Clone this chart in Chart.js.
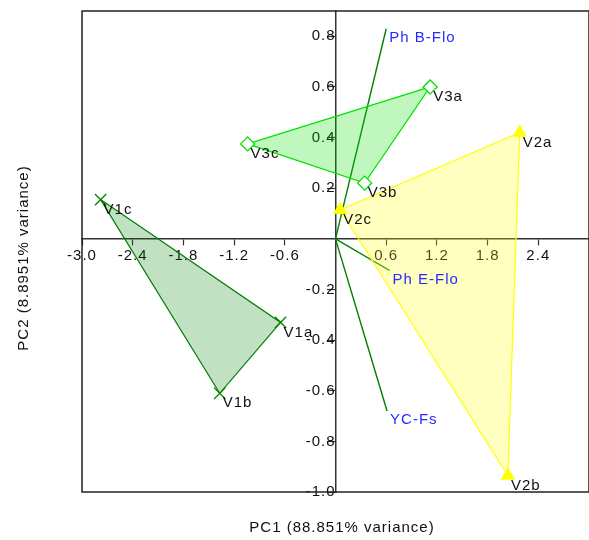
<!DOCTYPE html>
<html>
<head>
<meta charset="utf-8">
<script src="https://cdn.jsdelivr.net/npm/chart.js@4/dist/chart.umd.min.js"></script>
<style>
  html, body { margin: 0; padding: 0; background: #fff; }
  #wrap { width: 589px; height: 540px; }
</style>
</head>
<body>
<div id="wrap"><canvas id="biplot"></canvas></div>
<script>
// sample scores (PC1, PC2) for each group, in order a, b, c
var groupNames = ['V1', 'V2', 'V3'];
var v1x = [-0.65, -1.37, -2.78];
var v1y = [-0.33, -0.61, 0.155];
var v2x = [2.18, 2.04, 0.055];
var v2y = [0.42, -0.935, 0.115];
var v3x = [1.12, 0.345, -1.04];
var v3y = [0.60, 0.22, 0.375];
var sampleSuffix = ['a', 'b', 'c'];

// variable loadings drawn as vectors from the origin
var vecNames = ['Ph B-Flo', 'Ph E-Flo', 'YC-Fs'];
var vecX = [0.60, 0.64, 0.61];
var vecY = [0.83, -0.125, -0.68];

var xTicks = [-3.0, -2.4, -1.8, -1.2, -0.6, 0.6, 1.2, 1.8, 2.4];
var yTicks = [-1.0, -0.8, -0.6, -0.4, -0.2, 0.2, 0.4, 0.6, 0.8];

var xTitle = 'PC1 (88.851% variance)';
var yTitle = 'PC2 (8.8951% variance)';

var FONT = '"Liberation Sans", Arial, sans-serif';

// triangle outline c -> a -> b -> c
function hull(xs, ys) {
  var order = [2, 0, 1, 2];
  return order.map(function(i) { return {x: xs[i], y: ys[i]}; });
}

function groupSet(xs, ys, line, fill, style, pbg, r) {
  return {
    data: hull(xs, ys),
    showLine: true,
    fill: 'shape',
    borderColor: line,
    backgroundColor: fill,
    borderWidth: 1.2,
    pointStyle: style,
    pointRadius: [r, r, r, 0],
    pointBorderColor: line,
    pointBackgroundColor: pbg,
    pointBorderWidth: 1.3,
    tension: 0
  };
}

var datasets = [
  groupSet(v1x, v1y, 'rgb(0,128,0)', 'rgba(0,128,0,0.24)', 'crossRot', 'rgb(0,128,0)', 8),
  groupSet(v2x, v2y, 'rgb(255,255,0)', 'rgba(255,255,0,0.25)', 'triangle', 'rgb(255,255,0)', 7),
  groupSet(v3x, v3y, 'rgb(0,225,0)', 'rgba(0,225,0,0.25)', 'rectRot', '#ffffff', 7)
];

vecNames.forEach(function(n, i) {
  datasets.push({
    data: [{x: 0, y: 0}, {x: vecX[i], y: vecY[i]}],
    showLine: true,
    fill: false,
    borderColor: 'rgb(0,128,0)',
    borderWidth: 1.4,
    pointRadius: 0
  });
});

// spacing of the text glyphs
var spacingPlugin = {
  id: 'spacing',
  beforeUpdate: function(chart) { chart.ctx.letterSpacing = '1px'; },
  beforeDraw: function(chart) { chart.ctx.letterSpacing = '1px'; }
};

// frame, point names, vector names and axis titles
var decorPlugin = {
  id: 'decor',
  afterDatasetsDraw: function(chart) {
    var ctx = chart.ctx;
    var xs = chart.scales.x, ys = chart.scales.y;
    ctx.save();
    ctx.font = '15px ' + FONT;
    ctx.textAlign = 'left';
    ctx.textBaseline = 'middle';

    var groups = [[v1x, v1y], [v2x, v2y], [v3x, v3y]];
    ctx.fillStyle = '#111';
    groups.forEach(function(g, gi) {
      g[0].forEach(function(v, i) {
        var px = xs.getPixelForValue(v);
        var py = ys.getPixelForValue(g[1][i]);
        ctx.fillText(groupNames[gi] + sampleSuffix[i], px + 3, py + 10);
      });
    });

    ctx.fillStyle = '#2a2aff';
    vecNames.forEach(function(n, i) {
      var px = xs.getPixelForValue(vecX[i]);
      var py = ys.getPixelForValue(vecY[i]);
      ctx.fillText(n, px + 3, py + 9);
    });
    ctx.restore();
  },
  afterDraw: function(chart) {
    var ctx = chart.ctx;
    var a = chart.chartArea;
    ctx.save();
    ctx.strokeStyle = '#222';
    ctx.lineWidth = 1.5;
    ctx.strokeRect(a.left, a.top, a.right - a.left, a.bottom - a.top);

    ctx.font = '15px ' + FONT;
    ctx.fillStyle = '#111';
    ctx.textAlign = 'center';
    ctx.textBaseline = 'middle';
    ctx.fillText(xTitle, 342, 528);
    ctx.translate(24, 258);
    ctx.rotate(-Math.PI / 2);
    ctx.fillText(yTitle, 0, 0);
    ctx.restore();
  }
};

var ctx = document.getElementById('biplot');

var myChart = new Chart(ctx, {
  type: 'scatter',
  data: { datasets: datasets },
  options: {
    responsive: true,
    maintainAspectRatio: false,
    animation: false,
    events: [],
    layout: { autoPadding: false, padding: { left: 82, top: 11, right: 0, bottom: 48 } },
    plugins: {
      legend: { display: false },
      tooltip: { enabled: false }
    },
    scales: {
      x: {
        type: 'linear',
        min: -3.0,
        max: 3.0,
        position: { y: 0 },
        afterBuildTicks: function(scale) {
          scale.ticks = xTicks.map(function(v) { return {value: v}; });
        },
        afterFit: function(scale) {
          scale.paddingLeft = 0;
          scale.paddingRight = 0;
        },
        ticks: {
          color: '#111',
          font: { family: FONT, size: 15 },
          padding: 2,
          maxRotation: 0,
          autoSkip: false,
          callback: function(v) { return Number(v).toFixed(1); }
        },
        grid: { drawOnChartArea: false, drawTicks: true, tickLength: 6, tickColor: '#333', tickWidth: 1.2 },
        border: { color: '#333', width: 1.5 }
      },
      y: {
        type: 'linear',
        min: -1.0,
        max: 0.9,
        position: { x: 0 },
        afterBuildTicks: function(scale) {
          scale.ticks = yTicks.map(function(v) { return {value: v}; });
        },
        afterFit: function(scale) {
          scale.paddingTop = 0;
          scale.paddingBottom = 0;
        },
        ticks: {
          color: '#111',
          font: { family: FONT, size: 15 },
          padding: 1,
          autoSkip: false,
          callback: function(v) { return Number(v).toFixed(1); }
        },
        grid: { drawOnChartArea: false, drawTicks: true, tickLength: 8, tickColor: '#333', tickWidth: 1.2 },
        border: { color: '#333', width: 1.5 }
      }
    }
  },
  plugins: [spacingPlugin, decorPlugin]
});
</script>
</body>
</html>
